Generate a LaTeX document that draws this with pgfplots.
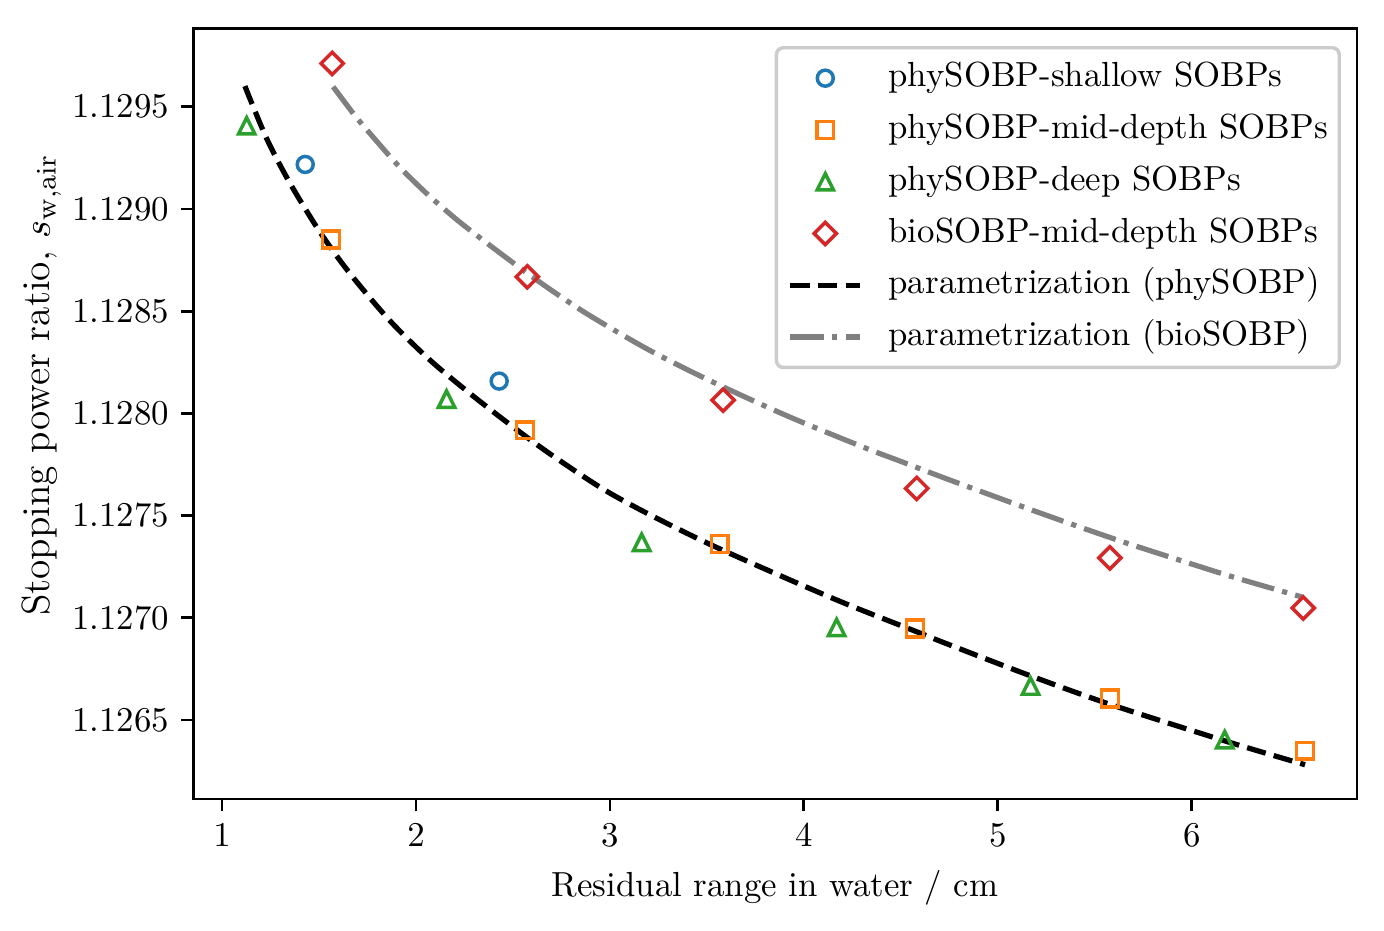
\documentclass[border=0pt]{standalone}
\usepackage{pgfplots}
\pgfplotsset{compat=1.18}

\definecolor{tabblue}{HTML}{1F77B4}
\definecolor{taborange}{HTML}{FF7F0E}
\definecolor{tabgreen}{HTML}{2CA02C}
\definecolor{tabred}{HTML}{D62728}
\definecolor{fitgray}{HTML}{808080}

% isosceles triangle (width = height) and square-on-corner diamond
\pgfdeclareplotmark{mtri}{%
  \pgfpathmoveto{\pgfqpoint{0pt}{\pgfplotmarksize}}%
  \pgfpathlineto{\pgfqpoint{-\pgfplotmarksize}{-\pgfplotmarksize}}%
  \pgfpathlineto{\pgfqpoint{\pgfplotmarksize}{-\pgfplotmarksize}}%
  \pgfpathclose
  \pgfusepathqstroke}
\pgfdeclareplotmark{mdia}{%
  \pgfpathmoveto{\pgfqpoint{0pt}{\pgfplotmarksize}}%
  \pgfpathlineto{\pgfqpoint{\pgfplotmarksize}{0pt}}%
  \pgfpathlineto{\pgfqpoint{0pt}{-\pgfplotmarksize}}%
  \pgfpathlineto{\pgfqpoint{-\pgfplotmarksize}{0pt}}%
  \pgfpathclose
  \pgfusepathqstroke}

\pgfplotstableread{
x y
1.429 1.129218
2.429 1.128158
}\shallow

\pgfplotstableread{
x y
1.562 1.128851
2.562 1.127918
3.567 1.127361
4.573 1.126948
5.579 1.126605
6.584 1.126350
}\middepth

\pgfplotstableread{
x y
1.127 1.129407
2.158 1.128070
3.164 1.127369
4.169 1.126953
5.169 1.126666
6.170 1.126404
}\deep

\pgfplotstableread{
x y
1.568 1.129712
2.574 1.128668
3.584 1.128065
4.582 1.127633
5.578 1.127293
6.575 1.127048
}\bio

% parametrization curves
\pgfplotstableread{
x y
1.118 1.129601
1.230 1.129345
1.350 1.129127
1.505 1.128887
1.660 1.128684
1.866 1.128453
2.072 1.128261
2.279 1.128097
2.485 1.127945
2.691 1.127802
2.966 1.127629
3.223 1.127496
3.567 1.127337
4.152 1.127094
4.573 1.126935
4.753 1.126867
5.169 1.126716
5.578 1.126577
6.170 1.126398
6.584 1.126281
}\fitphy

\pgfplotstableread{
x y
1.573 1.129598
1.660 1.129488
1.711 1.129427
1.866 1.129257
1.952 1.129170
2.072 1.129061
2.210 1.128948
2.330 1.128859
2.468 1.128760
2.588 1.128676
2.725 1.128585
2.897 1.128478
3.200 1.128311
3.516 1.128160
3.911 1.127989
4.306 1.127835
4.495 1.127767
4.753 1.127674
5.220 1.127512
5.600 1.127386
5.911 1.127290
6.222 1.127197
6.575 1.127100
}\fitbio

\begin{document}
\begin{tikzpicture}
\useasboundingbox (-55.55pt,-37.65pt) rectangle (342.16pt,229.63pt);
\begin{axis}[
  at={(0,0)}, anchor=south west,
  scale only axis, width=334.4pt, height=221.5pt,
  xmin=0.852, xmax=6.852, ymin=1.126113, ymax=1.129884,
  xtick={1,2,3,4,5,6},
  ytick={1.1265,1.127,1.1275,1.128,1.1285,1.129,1.1295},
  yticklabels={1.1265,1.1270,1.1275,1.1280,1.1285,1.1290,1.1295},
  scaled y ticks=false,
  xtick pos=bottom, ytick pos=left,
  tick align=outside, major tick length=3.5pt,
  every tick/.style={black, line width=0.8pt},
  axis line style={line width=0.8pt},
  xlabel={Residual range in water / cm},
  ylabel={Stopping power ratio, $s_{\mathrm{w,air}}$},
  every axis x label/.style={at={(axis description cs:0.5,-0.1269)}, anchor=base, inner sep=0pt},
  every axis y label/.style={at={(axis description cs:-0.1232,0.5371)}, rotate=90, anchor=base,
    inner sep=0pt, font=\fontsize{11.3pt}{13pt}\selectfont},
  legend image code/.code={%
    \draw[mark repeat=2,mark phase=2,#1] plot coordinates {(0pt,0pt) (10pt,0pt) (20pt,0pt)};},
  legend cell align=left,
  legend style={
    at={(axis description cs:1,1)}, anchor=north east,
    xshift=-4.6pt, yshift=-5.09pt,
    draw=black!20, line width=1pt, rounded corners=2pt,
    fill=white, fill opacity=0.8, text opacity=1,
    inner xsep=3.3pt, inner ysep=4.3pt,
    row sep=6pt, column sep=7.45pt,
    nodes={inner sep=0pt, text height=6.94pt, text depth=1.94pt},
  },
]
\addplot[only marks, tabblue, mark=o, mark size=2.3pt, mark options={solid, line width=1pt}]
  table {\shallow};
\addlegendentry{phySOBP-shallow SOBPs}
\addplot[only marks, taborange, mark=square, mark size=2.4pt, mark options={solid, line width=1pt}]
  table {\middepth};
\addlegendentry{phySOBP-mid-depth SOBPs}
\addplot[only marks, tabgreen, mark=mtri, mark size=2.35pt, mark options={solid, line width=1pt}]
  table {\deep};
\addlegendentry{phySOBP-deep SOBPs}
\addplot[only marks, tabred, mark=mdia, mark size=3.2pt, mark options={solid, line width=1pt}]
  table {\bio};
\addlegendentry{bioSOBP-mid-depth SOBPs}
\addplot[no marks, black, line width=1.5pt, dash pattern=on 5.55pt off 2.4pt, smooth]
  table {\fitphy};
\addlegendentry{parametrization (phySOBP)}
\addplot[no marks, fitgray, line width=1.5pt, dash pattern=on 9.6pt off 2.4pt on 1.5pt off 2.4pt, smooth]
  table {\fitbio};
\addlegendentry{parametrization (bioSOBP)}
\end{axis}
\end{tikzpicture}
\end{document}
